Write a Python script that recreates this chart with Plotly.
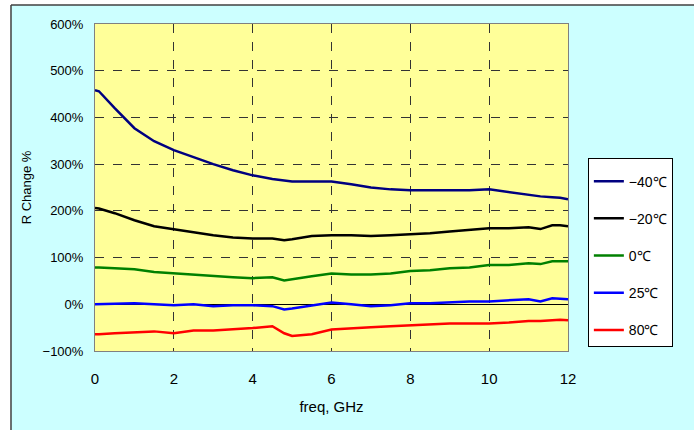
import plotly.graph_objects as go

# frequencies (GHz)
freq = [0, 0.1, 0.5, 1, 1.5, 2, 2.5, 3, 3.5, 4, 4.5, 4.8, 5, 5.5, 6, 6.5,
        7, 7.5, 8, 8.5, 9, 9.5, 10, 10.5, 11, 11.3, 11.6, 11.8, 12]

# R change in % for each temperature
r_m40 = [458, 456, 420, 377, 349, 330, 315, 300, 287, 276, 268, 265, 263, 263, 263, 257,
         250, 246, 244, 244, 244, 244, 246, 240, 233, 231, 229, 228, 225]
r_m20 = [206, 205, 195, 180, 167, 160, 154, 148, 143, 141, 141, 137, 139, 146, 148, 148,
         146, 148, 150, 152, 156, 160, 163, 163, 165, 161, 169, 169, 167]
r_0 = [79, 79, 77, 75, 69, 66, 64, 60, 58, 56, 58, 51, 54, 60, 66, 64,
       64, 66, 71, 73, 77, 79, 84, 84, 88, 86, 92, 92, 92]
r_25 = [0, 0, 1, 2, 0, -2, 0, -4, -2, -2, -4, -11, -9, -2, 4, 0,
        -4, -2, 2, 2, 4, 6, 6, 9, 11, 6, 13, 12, 11]
r_80 = [-64, -64, -62, -60, -58, -62, -56, -56, -54, -51, -47, -62, -68, -64, -54, -51,
        -49, -47, -45, -43, -41, -41, -41, -39, -36, -36, -34, -33, -34]

series_names = ["−40℃", "−20℃", "0℃", "25℃", "80℃"]
series_vals = [r_m40, r_m20, r_0, r_25, r_80]
series_cols = ["#000080", "#000000", "#008000", "#0000FF", "#FF0000"]

fig = go.Figure()
for name, vals, col in zip(series_names, series_vals, series_cols):
    fig.add_trace(go.Scatter(x=freq, y=vals, mode="lines", name=name,
                             legendgroup=name,
                             line=dict(color=col, width=2.5)))

font = "Liberation Sans, Arial, sans-serif"

fig.update_layout(
    width=694, height=430,
    margin=dict(l=95, r=126, t=24, b=79, autoexpand=False),
    paper_bgcolor="#CCFFFF",
    plot_bgcolor="#FFFF99",
    font=dict(family=font, color="#000000", size=13),
    showlegend=True,
    legend=dict(x=1.042, y=0.59, xanchor="left", yanchor="top",
                bgcolor="#FFFFFF", bordercolor="#000000", borderwidth=1,
                font=dict(size=14), tracegroupgap=16, itemwidth=30,
                title=dict(text=" ", font=dict(size=5))),
    xaxis=dict(range=[0, 12], dtick=2, showgrid=True, gridcolor="#333333",
               griddash="dash", gridwidth=0.7, zeroline=False,
               showline=True, mirror=True, linecolor="#808080", linewidth=1,
               tickfont=dict(size=15), ticklabelstandoff=14,
               title=dict(text="freq, GHz", font=dict(size=15), standoff=15)),
    yaxis=dict(range=[-100, 600], dtick=100, ticksuffix="%", showgrid=True,
               gridcolor="#333333", griddash="dash", gridwidth=0.7,
               zeroline=True, zerolinecolor="#000000", zerolinewidth=1,
               showline=True, mirror=True, linecolor="#808080", linewidth=1,
               tickfont=dict(size=13), ticklabelstandoff=8,
               title=dict(text="R Change %", font=dict(size=13), standoff=8)),
)

# white margin outside the chart frame plus the frame lines
fig.add_shape(type="rect", xref="paper", yref="paper", x0=-0.4, x1=1.6, y0=1.058, y1=1.2,
              fillcolor="#FFFFFF", line_width=0, layer="above")
fig.add_shape(type="rect", xref="paper", yref="paper", x0=-0.4, x1=-0.1776, y0=-0.5, y1=1.2,
              fillcolor="#FFFFFF", line_width=0, layer="above")
fig.add_shape(type="line", xref="paper", yref="paper", x0=-0.1776, x1=1.6, y0=1.058, y1=1.058,
              line=dict(color="#404040", width=1.5))
fig.add_shape(type="line", xref="paper", yref="paper", x0=-0.1776, x1=-0.1776, y0=-0.5, y1=1.058,
              line=dict(color="#404040", width=1.5))

# drop the browser's default body margin so the figure sits at the page corner
fig.write_html("out.html", config={"displayModeBar": False},
               post_script="document.body.style.margin='0px';")
